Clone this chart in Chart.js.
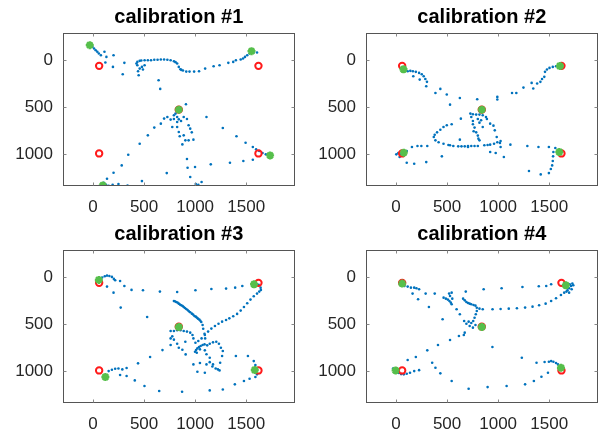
<!DOCTYPE html>
<html><head><meta charset="utf-8">
<script src="https://cdn.jsdelivr.net/npm/chart.js@4"></script>
<style>
html,body{margin:0;padding:0;background:#fff;width:602px;height:434px;overflow:hidden;position:relative}
.c{position:absolute;width:301px;height:217px}
</style></head><body>
<div class="c" style="left:0;top:0"><canvas id="c1" width="301" height="217"></canvas></div>
<div class="c" style="left:303px;top:0"><canvas id="c2" width="301" height="217"></canvas></div>
<div class="c" style="left:0;top:217px"><canvas id="c3" width="301" height="217"></canvas></div>
<div class="c" style="left:303px;top:217px"><canvas id="c4" width="301" height="217"></canvas></div>
<script>
const titles = ["calibration #1","calibration #2","calibration #3","calibration #4"];
const xTicks = [0,500,1000,1500];
const yTicks = [0,500,1000];
const xRange = [-294,1974];
const yRange = [-292,1336];

const targets = [[60,60],[1620,60],[840,525],[60,990],[1620,990]];

const fix1 = [[-32,-160],[1552,-96],[840,525],[1734,1011],[96,1330]];
const fix2 = [[73,96],[1605,62],[840,525],[76,982],[1599,975]];
const fix3 = [[57,29],[1577,75],[840,529],[121,1060],[1584,986]];
const fix4 = [[60,68],[1663,86],[840,529],[-4,990],[1615,962]];

const gaze1 = [[-6,-142],[10,-124],[26,-106],[42,-89],[57,-71],[77,-53],[112,-89],[131,-35],[121,25],[201,-53],[195,71],[307,28],[291,149],
[425,35],[434,18],[457,7],[473,4],[505,0],[537,0],[568,0],[600,-4],[632,-4],[664,-7],[696,-7],[728,-4],[760,0],[792,11],[808,21],[824,35],[840,71],[856,96],[865,103],[881,110],[913,121],[945,121],
[434,53],[457,89],[441,117],[447,160],[479,71],[505,53],[489,99],[642,213],[658,305],
[990,121],[1038,117],[1098,89],[1181,64],[1239,53],[1325,28],[1373,18],[1399,0],[1446,-7],[1469,-18],[1488,-35],[1510,-53],[1533,-71],[1574,-89],[1606,-82],
[910,468],[856,532],[808,567],[792,585],[824,603],[840,628],[792,624],[824,656],[862,645],[888,603],[920,624],[936,691],[952,727],[967,766],[983,844],[936,851],[904,851],[888,798],[849,808],[875,894],[840,762],[824,709],[760,631],[776,709],[728,603],[696,620],[664,674],[600,716],[537,798],[457,887],[345,1004],[281,1117],[201,1195],[137,1259],[105,1301],
[128,1323],[153,1333],[192,1323],[249,1316],[338,1330],[479,1284],[722,1199],
[920,1050],[926,1142],[952,1241],[1006,1316],[1031,1323],[1063,1294],[999,1135],
[1111,603],[1271,720],[1405,808],[1494,876],[1565,922],[1597,947],[1628,965],[1660,986],[1692,1000],[1718,1014],[1472,1071],[1565,1057],[1341,1089],[1153,1106]];

const gaze2 = [[92,106],[114,117],[140,113],[165,117],[194,124],[226,135],[252,149],[271,170],[287,199],[303,230],[169,170],[232,206],[296,277],[386,348],[434,305],[497,365],[529,472],[625,401],[795,415],[992,390],[992,418],
[1567,64],[1535,71],[1503,82],[1478,99],[1459,124],[1452,177],[1430,199],[1414,230],[1382,248],[1328,241],[1344,301],[1248,291],[1178,348],[1136,348],
[728,567],[753,574],[785,578],[817,578],[849,585],[881,603],[890,624],[737,603],[753,645],[753,681],[769,716],[760,755],[785,766],[801,801],[807,833],[817,851],[849,709],[833,638],[817,663],[801,624],[922,674],[954,695],[967,745],[986,816],[1018,879],[1024,922],[1056,1028],[1120,897],[976,986],[922,975],
[1024,858],[992,872],[960,887],[922,897],[897,901],[865,904],[801,911],[769,911],[737,911],[705,911],[673,915],[641,915],[609,915],[561,911],[529,904],[513,901],[465,887],[417,872],[386,851],[370,816],[379,791],[402,766],[434,738],[465,709],[497,691],[545,681],[635,621],[625,844],[705,922],
[3,1000],[35,1028],[105,1089],[178,1099],[296,1082],[105,965],[156,922],[210,911],[248,911],[306,911],[449,1021],[22,986],[50,1000],
[1560,933],[1541,975],[1538,1021],[1535,1071],[1529,1117],[1516,1156],[1497,1199],[1417,1213],[1302,1177],[1286,911],[1395,922],[1497,922]];

const gaze3 = [[73,22],[89,4],[115,-10],[137,-17],[160,-13],[185,-3],[204,18],[217,33],[137,100],[201,164],[265,40],[307,93],[377,135],[489,139],[655,153],[824,157],[1003,139],[1159,125],[1303,121],[1392,111],[1462,93],[271,323],[530,423],
[1622,82],[1641,111],[1644,135],[1628,153],[1606,174],[1574,203],[1542,238],[1510,277],[1478,316],[1446,355],[1411,390],[1373,415],[1335,437],[1303,454],[1264,472],[1229,494],[1194,518],[1159,546],[1127,578],[1095,614],[1063,650],[1031,678],
[792,253],[801,256],[814,263],[827,270],[840,281],[852,291],[865,299],[878,306],[888,316],[900,327],[913,338],[926,348],[939,362],[952,373],[968,387],[980,397],[993,412],[1006,419],[1016,429],[1028,440],[1041,451],[1051,462],[1060,476],[1073,508],[1079,547],[1092,600],[1098,650],
[999,791],[1009,774],[1022,756],[1038,741],[1054,731],[1073,720],[1092,713],[1118,724],[1143,706],[1175,692],[1207,685],[1233,706],[1252,749],[1271,784],[1264,837],[1245,908],[1223,979],[1201,969],[1175,926],[1143,855],[1111,819],[1095,777],[1047,766],[1016,802],
[760,571],[792,571],[824,564],[856,564],[888,571],[920,578],[952,589],[974,614],[983,650],[1003,696],[776,628],[792,663],[824,706],[840,749],[875,770],[907,820],[760,720],[904,685],[983,926],[1022,1004],[1047,912],[1095,1015],[1111,926],[1143,902],[1169,948],[1239,990],[760,650],
[153,997],[185,983],[217,972],[249,969],[287,979],[329,965],[329,1050],[265,1039],[409,1096],[504,1156],[648,1209],[872,1216],[559,848],[441,915],[680,774],
[1590,933],[1574,891],[1517,837],[1399,837],[1606,1032],[1590,1060],[1533,1078],[1478,1103],[1389,1138],[1271,1192],[1143,1202]];

const gaze4 = [[82,93],[114,100],[146,111],[178,111],[200,118],[162,174],[216,235],[226,128],[290,174],[322,316],[379,174],[456,447],[545,164],[683,153],[858,128],[1034,118],[1238,104],[1398,96],[1471,93],[1519,75],
[466,217],[488,228],[507,238],[523,253],[536,270],[545,288],[529,199],[520,174],[551,228],
[657,228],[673,246],[689,263],[705,274],[721,281],[737,288],[759,295],[778,302],[791,324],[791,359],[781,394],[769,430],[756,465],[737,486],[711,472],[689,494],[721,518],[753,536],[778,508],[593,341],[625,394],[667,465],[673,589],[664,614],[616,624],
[817,334],[849,341],[945,341],[1024,337],[1104,334],[1184,330],[1264,323],[1337,313],[1401,298],[1465,281],[1519,253],[1567,224],[1615,189],[1647,164],[1679,139],[1695,118],[1714,93],[1727,68],[1736,86],[1720,128],[1695,164],[1669,153],[1701,75],
[-29,969],[-13,979],[9,1000],[28,1018],[50,1029],[76,1032],[105,1025],[137,1014],[178,997],[226,987],[114,880],[194,848],[306,777],[411,720],[529,667],[354,908],[386,962],[434,1021],[545,1103],[711,1185],[897,1167],[1083,1156],[1264,1138],[1350,1103],[1424,1057],[1488,1014],[944,741],[1232,855],[1376,908],[1455,901],[1497,898],
[1519,891],[1541,898],[1567,912],[1586,926],[1599,947]];

const gazeSets = [gaze1,gaze2,gaze3,gaze4];
const fixSets = [fix1,fix2,fix3,fix4];
const FONT = "'Liberation Sans', Arial, Helvetica, sans-serif";
const toXY = a => a.map(p => ({x:p[0], y:p[1]}));

const boxPlugin = {
  id:'box',
  afterDatasetsDraw(chart){
    const {ctx, chartArea:a, scales} = chart;
    ctx.save();
    ctx.strokeStyle = '#555';
    ctx.lineWidth = 1;
    const L = Math.round(a.left)+0.5, R = Math.round(a.right)-0.5, T = Math.round(a.top)+0.5, B = Math.round(a.bottom)-0.5;
    ctx.strokeRect(L, T, R-L, B-T);
    ctx.strokeStyle = '#888';
    ctx.beginPath();
    xTicks.forEach(v => {
      const px = Math.round(scales.x.getPixelForValue(v))+0.5;
      ctx.moveTo(px, B); ctx.lineTo(px, B-3);
      ctx.moveTo(px, T); ctx.lineTo(px, T+3);
    });
    yTicks.forEach(v => {
      const py = Math.round(scales.y.getPixelForValue(v))+0.5;
      ctx.moveTo(L, py); ctx.lineTo(L+3, py);
      ctx.moveTo(R, py); ctx.lineTo(R-3, py);
    });
    ctx.stroke();
    ctx.restore();
  }
};

function makeChart(id, i){
  new Chart(document.getElementById(id), {
    type:'scatter',
    data:{datasets:[
      {data:toXY(gazeSets[i]), backgroundColor:'#0072BD', borderWidth:0, pointRadius:1.3, order:3},
      {data:toXY(targets), backgroundColor:'rgba(0,0,0,0)', borderColor:'#FF1A1A', borderWidth:2, pointRadius:3.2, order:2},
      {data:toXY(fixSets[i]), pointStyle:'star', borderColor:'#56BF4B', backgroundColor:'#56BF4B', borderWidth:2.4, pointRadius:4, order:1}
    ]},
    options:{
      responsive:false, animation:false, events:[],
      layout:{padding:{left:0,right:1,top:0,bottom:0}},
      plugins:{
        legend:{display:false}, tooltip:{enabled:false},
        title:{display:true, align:'center', fullSize:false, text:titles[i], color:'#000', font:{family:FONT, size:20, weight:'bold'}, padding:{top:5,bottom:3.7}}
      },
      scales:{
        x:{type:'linear', min:xRange[0], max:xRange[1],
           grid:{display:false, drawTicks:false}, border:{display:false},
           afterBuildTicks(s){ s.ticks = xTicks.map(v=>({value:v})); },
           afterFit(s){ s.height = 31; },
           ticks:{color:'#262626', font:{family:FONT, size:17}, padding:11, maxRotation:0, autoSkip:false, callback:v=>String(v)}},
        y:{type:'linear', reverse:true, min:yRange[0], max:yRange[1],
           grid:{display:false, drawTicks:false}, border:{display:false},
           afterBuildTicks(s){ s.ticks = yTicks.map(v=>({value:v})); },
           afterFit(s){ s.width = 63; },
           ticks:{color:'#262626', font:{family:FONT, size:17}, padding:10, autoSkip:false, callback:v=>String(v)}}
      }
    },
    plugins:[boxPlugin]
  });
}
['c1','c2','c3','c4'].forEach((id,i)=>makeChart(id,i));
</script>
</body></html>
